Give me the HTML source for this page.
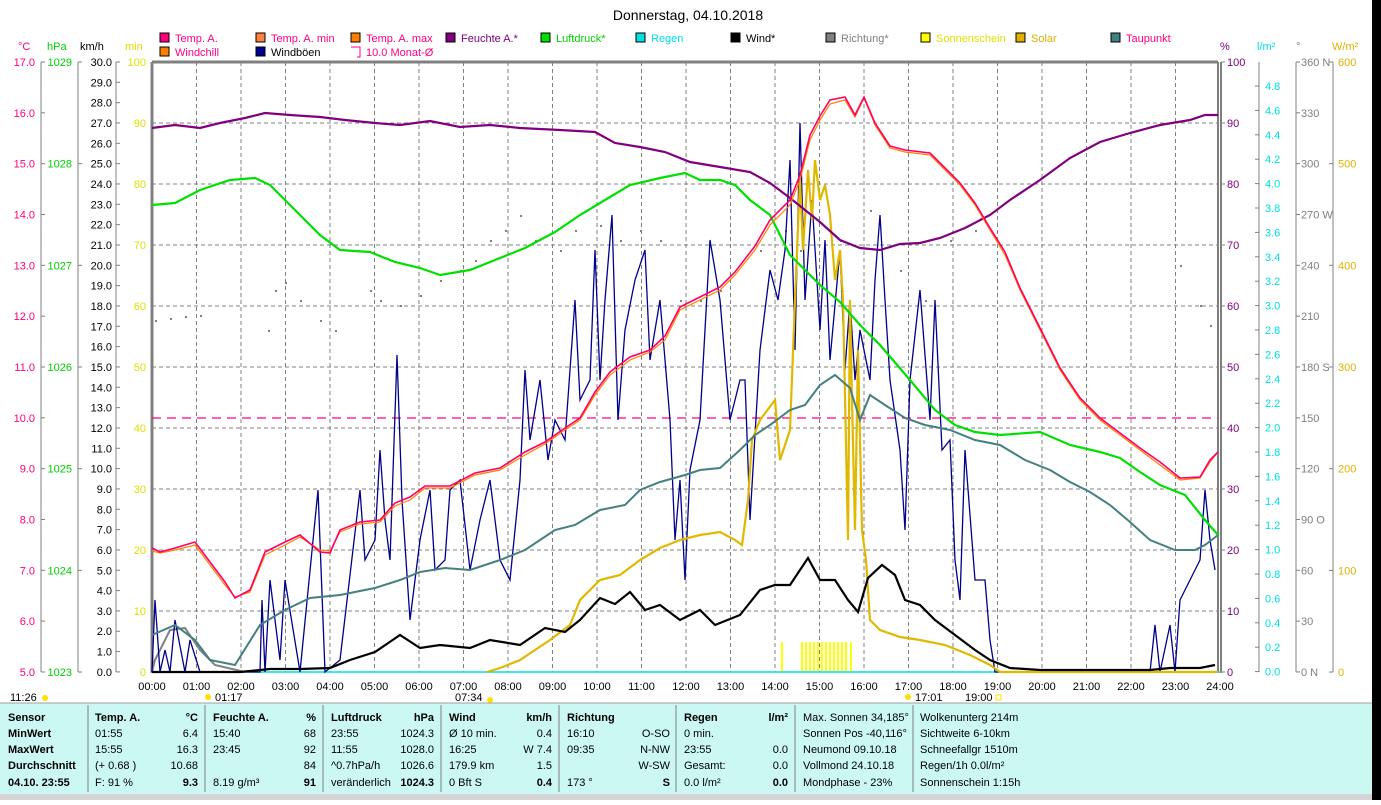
<!DOCTYPE html>
<html><head><meta charset="utf-8"><style>
body{margin:0;background:#fff;width:1381px;height:800px;overflow:hidden;font-family:"Liberation Sans",sans-serif}
svg text{font-family:"Liberation Sans",sans-serif;font-size:11px}
</style></head><body>
<svg id="s" width="1381" height="800" xmlns="http://www.w3.org/2000/svg">
<rect x="1372" y="0" width="9" height="800" fill="#000"/>
<text x="688" y="20" font-size="14" text-anchor="middle" style="font-size:14px">Donnerstag, 04.10.2018</text>
<g id="legend"></g>
<g id="grid" stroke="#808080" stroke-dasharray="4,3" stroke-width="1"></g>
<g id="axes"></g>
<line x1="152" y1="418" x2="1218" y2="418" stroke="#ff0080" stroke-dasharray="9,6" stroke-width="1.2"/>
<g id="sun" stroke="#ffff00" stroke-width="2"></g>
<g id="dots" fill="#808080"></g>
<polyline fill="none" stroke="#808080" stroke-width="2" points="152,672 155,660 170,630 185,628 200,650 215,665 245,672"/>
<polyline fill="none" stroke="#00008b" stroke-width="1.3" points="152,672 155,600 160,672 165,650 170,672 175,620 185,672 190,640 200,672 260,672 262,600 265,672 270,580 280,660 285,580 300,672 318,490 325,672 340,660 360,490 365,560 375,540 380,450 385,520 390,560 397,355 402,500 410,620 420,540 430,490 435,570 445,560 450,490 460,480 470,570 480,520 490,480 500,560 510,580 520,480 525,370 530,440 540,380 548,460 555,420 565,440 575,300 580,400 590,380 595,250 600,380 605,300 612,215 618,420 625,330 635,280 645,250 650,360 660,300 670,420 675,540 680,480 685,580 690,470 700,420 710,240 720,300 730,420 740,380 745,380 750,520 760,350 770,270 778,300 785,250 790,160 795,350 800,123 805,300 812,200 820,330 825,240 830,360 840,250 845,370 850,300 855,380 860,330 870,380 875,280 880,215 885,300 890,380 900,450 905,530 910,380 920,290 930,420 935,300 942,450 950,440 955,560 960,600 965,450 975,580 985,580 990,640 995,672 1150,672 1155,625 1160,672 1170,625 1175,672 1180,600 1190,580 1200,560 1205,490 1210,540 1215,570"/>
<polyline fill="none" stroke="#e0b800" stroke-width="2.2" points="487,672 500,668 520,660 550,640 570,625 580,600 600,580 620,575 640,560 660,548 680,540 700,535 720,532 735,540 742,545 748,500 752,440 760,420 775,400 780,460 790,430 795,300 800,180 803,250 808,170 812,220 815,160 820,200 825,185 830,215 835,280 840,250 843,300 848,540 850,300 852,400 855,530 858,350 862,530 866,560 870,620 880,630 900,637 920,640 945,645 970,655 990,665 1000,672 1218,672"/>
<polyline fill="none" stroke="#000" stroke-width="2.2" points="152,672 240,672 270,669 300,669 330,668 350,660 375,652 400,635 420,648 440,645 470,648 490,640 520,645 545,628 565,632 580,620 600,598 615,604 630,592 645,610 660,605 680,620 700,610 715,625 740,615 760,590 775,585 790,585 808,558 820,580 835,580 848,600 858,612 868,578 882,565 895,575 905,600 920,605 935,620 955,635 975,650 990,660 1010,668 1040,670 1150,670 1170,668 1200,668 1215,665"/>
<polyline fill="none" stroke="#458080" stroke-width="2" points="152,635 175,625 195,640 210,660 235,665 260,625 285,610 310,598 340,595 375,588 400,580 420,572 445,568 470,570 500,560 525,550 555,530 575,525 600,510 625,505 640,490 660,482 685,475 700,470 720,468 740,450 755,435 770,425 790,410 805,405 820,385 835,375 850,388 860,420 870,395 885,405 905,418 925,425 950,430 975,440 1000,445 1025,460 1050,470 1070,482 1090,492 1110,505 1130,522 1150,540 1175,550 1195,550 1205,545 1218,535"/>
<polyline fill="none" stroke="#00e000" stroke-width="2.2" points="152,205 175,203 200,190 230,180 255,178 270,185 300,215 320,235 340,250 370,252 395,262 420,268 440,275 470,270 495,260 525,248 555,232 580,215 605,200 630,185 660,178 685,173 700,180 720,180 735,185 750,200 770,215 790,255 820,285 840,302 860,325 880,345 910,380 935,410 955,425 975,432 1000,435 1040,432 1070,445 1100,452 1120,458 1140,472 1160,485 1185,495 1205,520 1218,535"/>
<polyline fill="none" stroke="#800080" stroke-width="2.2" points="152,128 175,125 200,128 220,123 245,118 265,113 290,115 320,117 345,120 375,123 400,125 430,121 460,127 490,125 520,128 560,130 595,132 615,143 640,147 665,152 690,162 720,167 750,172 770,183 790,198 805,210 820,222 840,240 860,248 880,250 900,244 920,243 940,238 965,228 990,215 1010,200 1040,180 1070,158 1100,142 1130,133 1160,125 1190,120 1205,115 1218,115"/>
<polyline fill="none" stroke="#ff8000" stroke-width="1.2" points="152,551 160,553 175,550 195,545 210,565 225,585 235,597 250,592 265,555 285,545 300,537 320,550 330,551 340,532 360,524 380,522 395,506 410,500 425,488 450,488 475,475 500,470 525,455 545,444 565,430 580,420 595,395 610,375 630,360 650,352 665,340 680,310 700,300 720,290 735,275 755,250 770,225 790,205 800,180 810,140 820,120 830,104 845,100 855,117 864,98 875,125 890,148 905,152 930,155 945,170 960,185 975,205 990,230 1005,255 1020,290 1040,330 1060,370 1080,400 1100,420 1120,435 1140,450 1160,465 1180,480 1200,478 1210,462 1218,452"/>
<polyline fill="none" stroke="#ff0066" stroke-width="1.6" points="152,548 160,552 175,548 195,542 210,562 225,582 235,598 250,590 265,552 285,542 300,535 320,552 330,553 340,530 360,522 380,520 395,503 410,497 425,486 450,486 475,473 500,468 525,452 545,442 565,428 580,418 595,392 610,372 630,357 650,350 665,336 680,307 700,297 720,287 735,272 755,246 770,220 790,200 800,175 810,135 820,116 830,100 845,97 855,115 864,97 875,123 890,146 905,150 930,153 945,168 960,183 975,203 990,228 1005,252 1020,288 1040,328 1060,368 1080,398 1100,418 1120,433 1140,448 1160,462 1180,478 1200,477 1210,460 1218,452"/>
<g id="bottom"></g>
</svg>
<script>
const S=document.getElementById('s'),NS='http://www.w3.org/2000/svg';
function el(p,t,a,txt){const e=document.createElementNS(NS,t);for(const k in a)e.setAttribute(k,a[k]);if(txt!==undefined)e.textContent=txt;(typeof p==='string'?document.getElementById(p):p).appendChild(e);return e;}
const X=h=>152+44.5*h;
for(let h=1;h<24;h++)el('grid','line',{x1:X(h),y1:62,x2:X(h),y2:672});
for(let k=1;k<10;k++)el('grid','line',{x1:152,y1:62+61*k,x2:1218,y2:62+61*k});
const A='axes';
el(A,'line',{x1:152,y1:62,x2:1218,y2:62,stroke:'#808080','stroke-width':3});
el(A,'line',{x1:152,y1:62,x2:152,y2:673,stroke:'#808080','stroke-width':3});
el(A,'line',{x1:1218,y1:62,x2:1218,y2:673,stroke:'#808080','stroke-width':2});
el(A,'line',{x1:1221,y1:62,x2:1221,y2:673,stroke:'#808080','stroke-width':2});
el(A,'line',{x1:152,y1:672,x2:1221,y2:672,stroke:'#00e0e0','stroke-width':1.5});
function axis(lx,tx,vals,y0,dy,col,anchor,tickL){
 el(A,'line',{x1:lx,y1:62,x2:lx,y2:672,stroke:'#808080'});
 vals.forEach((v,i)=>{const y=y0+dy*i;el(A,'line',{x1:lx+(tickL<0?tickL:0),y1:y,x2:lx+(tickL>0?tickL:0),y2:y,stroke:'#808080'});
 el(A,'text',{x:tx,y:y+4,fill:col,'text-anchor':anchor},v);});
}
let v=[];for(let t=17;t>=5;t--)v.push(t.toFixed(1));axis(41,35,v,62,50.83,'#ff0080','end',4);
v=[];for(let t=1029;t>=1023;t--)v.push(t);axis(78,72,v,62,101.67,'#00d000','end',4);
v=[];for(let t=30;t>=0;t--)v.push(t.toFixed(1));axis(116,112,v,62,20.33,'#000','end',4);
v=[];for(let t=100;t>=0;t-=10)v.push(t);
v.forEach((t,i)=>el(A,'text',{x:146,y:62+61*i+4,fill:'#e0e000','text-anchor':'end'},t));
v.forEach((t,i)=>{el(A,'line',{x1:1221,y1:62+61*i,x2:1225,y2:62+61*i,stroke:'#808080'});el(A,'text',{x:1227,y:62+61*i+4,fill:'#800080'},t)});
v=[];for(let t=24;t>=0;t--)v.push((t*0.2).toFixed(1));
el(A,'line',{x1:1259,y1:62,x2:1259,y2:672,stroke:'#808080'});
v.forEach((t,i)=>{const y=86+24.4*i;el(A,'line',{x1:1255,y1:y,x2:1259,y2:y,stroke:'#808080'});el(A,'text',{x:1265,y:y+4,fill:'#00e0e0'},t)});
const dl=['360 N','330','300','270 W','240','210','180 S','150','120','90 O','60','30','0 N'];
el(A,'line',{x1:1296,y1:62,x2:1296,y2:672,stroke:'#808080'});
dl.forEach((t,i)=>{const y=62+50.83*i;el(A,'line',{x1:1296,y1:y,x2:1300,y2:y,stroke:'#808080'});el(A,'text',{x:1301,y:y+4,fill:'#808080'},t)});
el(A,'line',{x1:1333,y1:62,x2:1333,y2:672,stroke:'#808080'});
for(let i=0;i<=6;i++){const y=62+101.67*i;el(A,'line',{x1:1329,y1:y,x2:1333,y2:y,stroke:'#808080'});el(A,'text',{x:1338,y:y+4,fill:'#e0b000'},600-100*i)}
[[18,'°C','#ff0080'],[47,'hPa','#00d000'],[80,'km/h','#000'],[125,'min','#e0e000'],[1220,'%','#800080'],[1257,'l/m²','#00e0e0'],[1296,'°','#808080'],[1332,'W/m²','#e0b000']].forEach(a=>el(A,'text',{x:a[0],y:50,fill:a[2]},a[1]));
const L=[[160,42,'#ff0080','Temp. A.','#ff0080'],[256,42,'#ff8040','Temp. A. min','#ff0080'],[351,42,'#ff8000','Temp. A. max','#ff0080'],[446,42,'#800080','Feuchte A.*','#800080'],[541,42,'#00e000','Luftdruck*','#00d000'],[636,42,'#00e0e0','Regen','#00e0e0'],[731,42,'#000','Wind*','#000'],[826,42,'#808080','Richtung*','#808080'],[921,42,'#ffff00','Sonnenschein','#e0e000'],[1016,42,'#e0b000','Solar','#e0b000'],[1111,42,'#458080','Taupunkt','#ff0080'],[160,56,'#ff8000','Windchill','#ff0080'],[256,56,'#000090','Windböen','#000']];
L.forEach(a=>{el('legend','rect',{x:a[0],y:a[1]-9,width:9,height:9,fill:a[2],stroke:'#000'});el('legend','text',{x:a[0]+15,y:a[1],fill:a[4]},a[3])});
el('legend','path',{d:'M351,47 h9 v10 h-3',fill:'none',stroke:'#ff0080'});
el('legend','text',{x:366,y:56,fill:'#ff0080'},'10.0 Monat-Ø');
[782,802,806,810,814,818,822,826,830,834,838,842,846,851].forEach(x=>el('sun','line',{x1:x,y1:642,x2:x,y2:671}));
[[155,320],[170,318],[185,316],[200,315],[268,330],[275,290],[285,282],[300,300],[320,320],[335,330],[370,290],[380,300],[400,305],[420,295],[440,280],[460,270],[475,260],[490,240],[505,230],[520,215],[535,240],[560,250],[575,230],[600,225],[620,240],[640,230],[660,240],[680,300],[700,300],[720,290],[760,250],[785,230],[800,250],[840,240],[870,210],[900,270],[925,300],[950,240],[975,230],[1000,245],[1180,265],[1200,305],[1210,325]].forEach(p=>el('dots','rect',{x:p[0],y:p[1],width:2,height:2}));
for(let h=0;h<=24;h++)el('bottom','text',{x:X(h),y:690,'text-anchor':'middle'},(h<10?'0':'')+h+':00');
[[10,701,'11:26'],[215,701,'01:17'],[455,701,'07:34'],[915,701,'17:01'],[965,701,'19:00']].forEach(a=>el('bottom','text',{x:a[0],y:a[1]},a[2]));
[[45,698],[490,700],[208,697],[908,697]].forEach(p=>el('bottom','circle',{cx:p[0],cy:p[1],r:3,fill:'#ffe000'}));
el('bottom','rect',{x:996,y:695,width:5,height:5,fill:'none',stroke:'#ffe000'});
const B=document.getElementById('bottom');
el(B,'rect',{x:0,y:703,width:1372,height:92,fill:'#ccf8f4'});
el(B,'rect',{x:0,y:794,width:1372,height:6,fill:'#d4d4d4'});
el(B,'line',{x1:0,y1:703,x2:1372,y2:703,stroke:'#a0a0a0'});
[88,205,323,441,559,676,795,913].forEach(x=>el(B,'line',{x1:x,y1:705,x2:x,y2:792,stroke:'#808080'}));
const rows=[717,733,749,765,782];
function col(x,arr,anchor,bold){arr.forEach((t,i)=>{if(t)el(B,'text',{x:x,y:rows[i]+4,'text-anchor':anchor||'start','font-weight':(bold===true||(bold==='first'&&i==0)||(bold==='last'&&i==4))?'bold':'normal'},t)})}
col(8,['Sensor','MinWert','MaxWert','Durchschnitt','04.10. 23:55'],'start',true);
col(95,['Temp. A.','01:55','15:55','(+ 0.68 )','F: 91 %'],'start','first');
col(198,['°C','6.4','16.3','10.68','9.3'],'end','first');
col(213,['Feuchte A.','15:40','23:45','','8.19 g/m³'],'start','first');
col(316,['%','68','92','84','91'],'end','first');
col(331,['Luftdruck','23:55','11:55','^0.7hPa/h','veränderlich'],'start','first');
col(434,['hPa','1024.3','1028.0','1026.6','1024.3'],'end','first');
col(449,['Wind','Ø 10 min.','16:25','179.9 km','0 Bft S'],'start','first');
col(552,['km/h','0.4','W 7.4','1.5','0.4'],'end','first');
col(567,['Richtung','16:10','09:35','','173 °'],'start','first');
col(670,['','O-SO','N-NW','W-SW','S'],'end');
col(684,['Regen','0 min.','23:55','Gesamt:','0.0 l/m²'],'start','first');
col(788,['l/m²','','0.0','0.0','0.0'],'end','first');
col(803,['Max. Sonnen 34,185°','Sonnen Pos -40,116°','Neumond   09.10.18','Vollmond   24.10.18','Mondphase     - 23%']);
col(920,['Wolkenunterg  214m','Sichtweite    6-10km','Schneefallgr  1510m','Regen/1h    0.0l/m²','Sonnenschein 1:15h']);
document.querySelectorAll('#bottom text').forEach(t=>{if(t.getAttribute('y')==''+(782+4)&&['9.3','91','1024.3','0.4','S','0.0'].includes(t.textContent)&&t.getAttribute('text-anchor')==='end')t.setAttribute('font-weight','bold')});
document.querySelectorAll('#bottom text').forEach(t=>t.setAttribute('xml:space','preserve'));
</script>
</body></html>
